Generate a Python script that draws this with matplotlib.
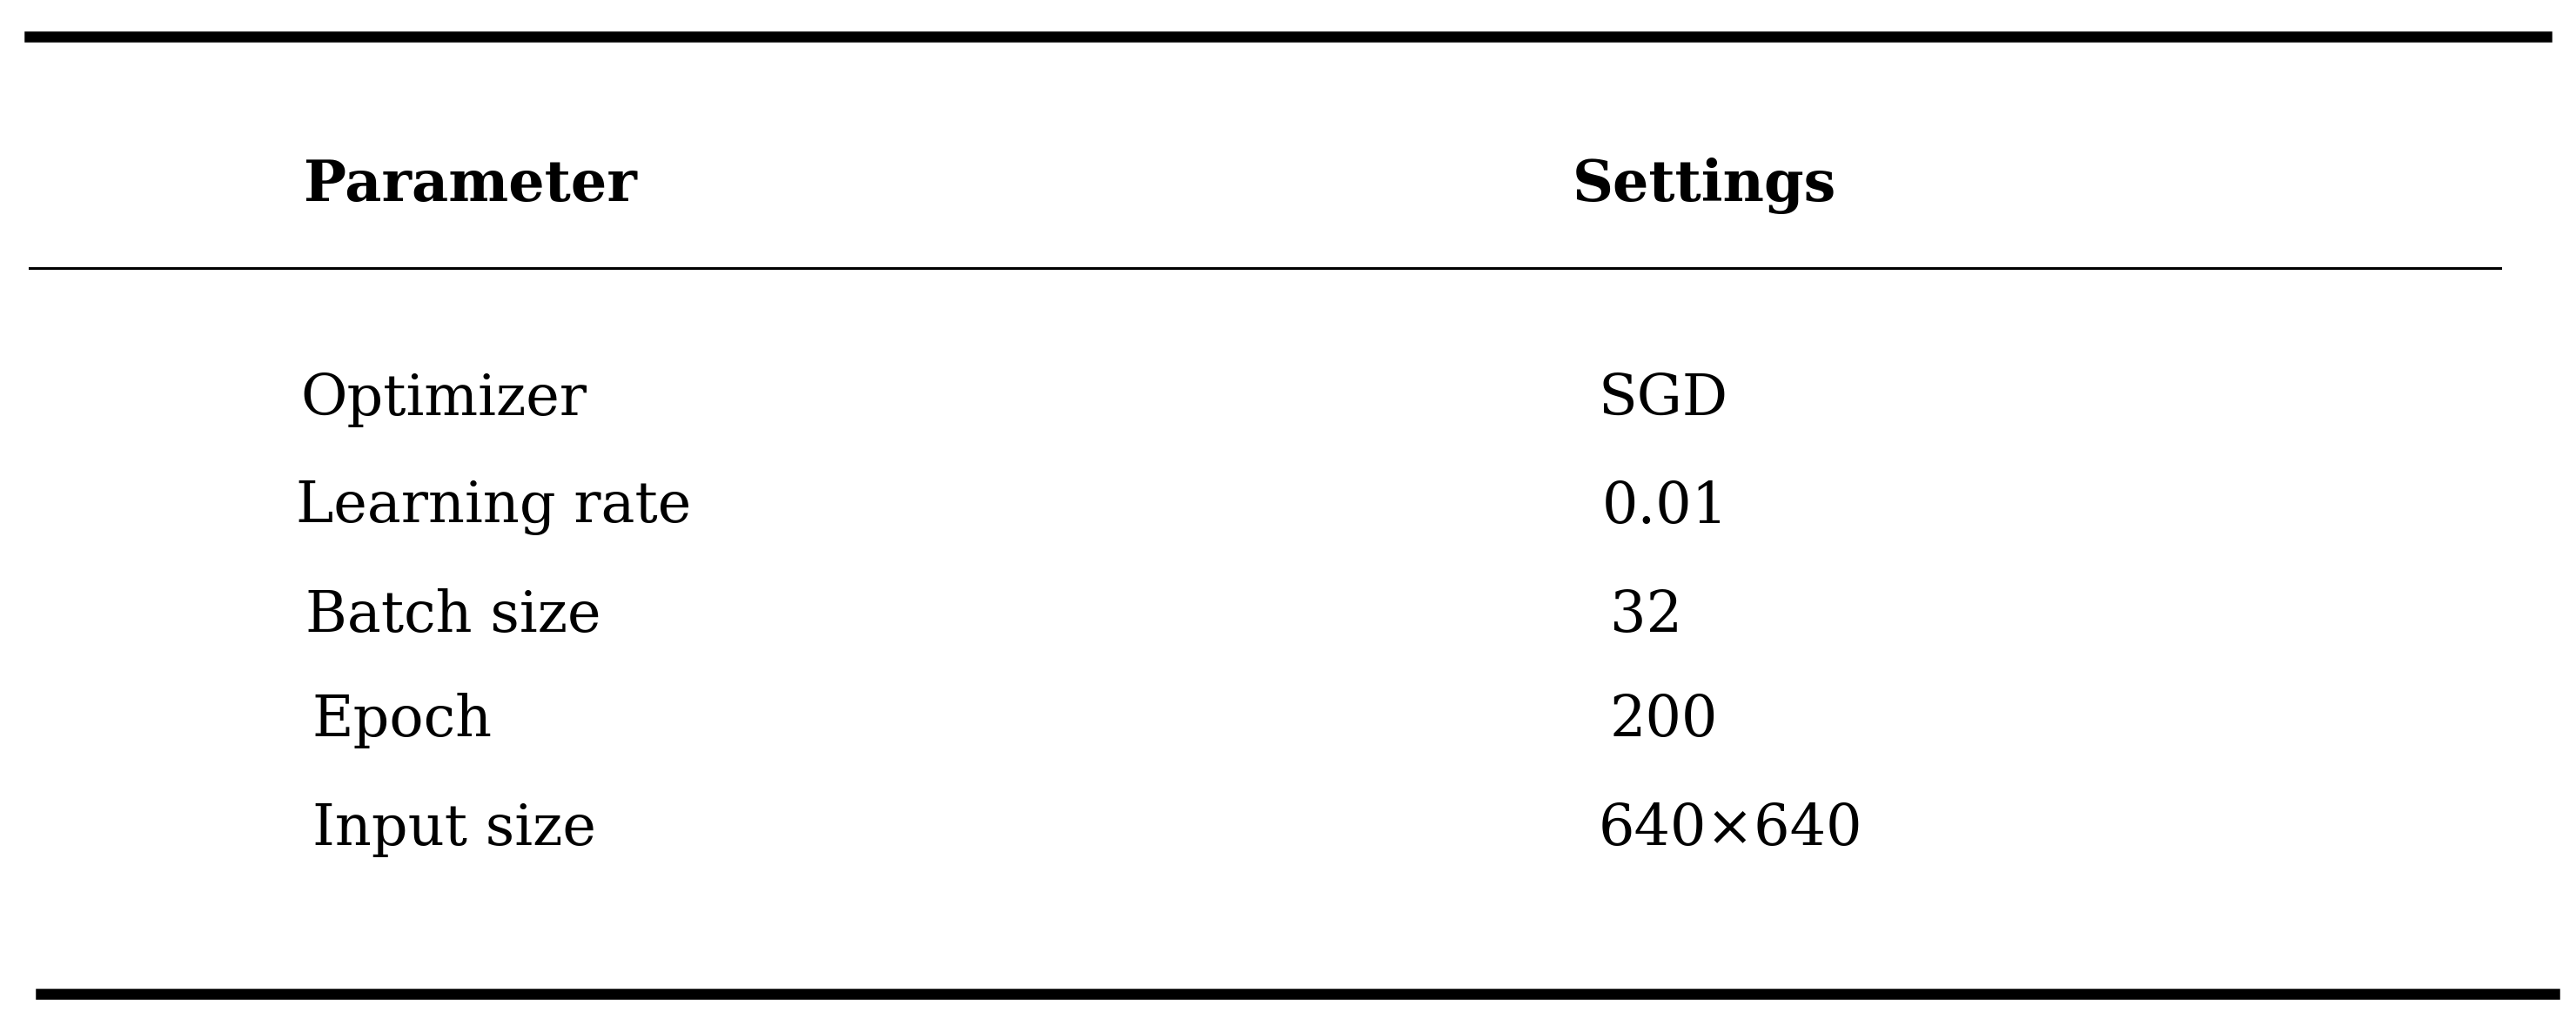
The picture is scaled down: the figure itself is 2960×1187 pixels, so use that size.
import matplotlib
matplotlib.use("Agg")
import matplotlib.pyplot as plt

headers = ["Parameter", "Settings"]
params = ["Optimizer", "Learning rate", "Batch size", "Epoch", "Input size"]
settings = ["SGD", "0.01", "32", "200", "640×640"]

W, H = 1568.0, 629.0
fig = plt.figure(figsize=(29.6, 11.87), dpi=100)
fig.patch.set_facecolor("white")

def fx(x): return x / W
def fy(y): return 1 - y / H

def hline(x0, x1, y, lw):
    fig.add_artist(plt.Line2D([fx(x0), fx(x1)], [fy(y), fy(y)], color="black", lw=lw, transform=fig.transFigure))

hline(18, 1550, 22, 9)
hline(18, 1522, 163, 2.2)
hline(25, 1555, 605, 9)

font = dict(family=["DejaVu Serif"], fontsize=47, va="center", ha="left")
fig.text(fx(185), fy(113), headers[0], fontweight="bold", **font)
fig.text(fx(957), fy(113), headers[1], fontweight="bold", **font)

ys = [243, 309, 375, 439, 505]
px = [183, 180, 186, 190, 190]
sx = [973, 975, 980, 980, 973]
for p, s, y, a, b in zip(params, settings, ys, px, sx):
    fig.text(fx(a), fy(y), p, **font)
    fig.text(fx(b), fy(y), s, **font)

fig.savefig("out.png", dpi=100, facecolor="white")
